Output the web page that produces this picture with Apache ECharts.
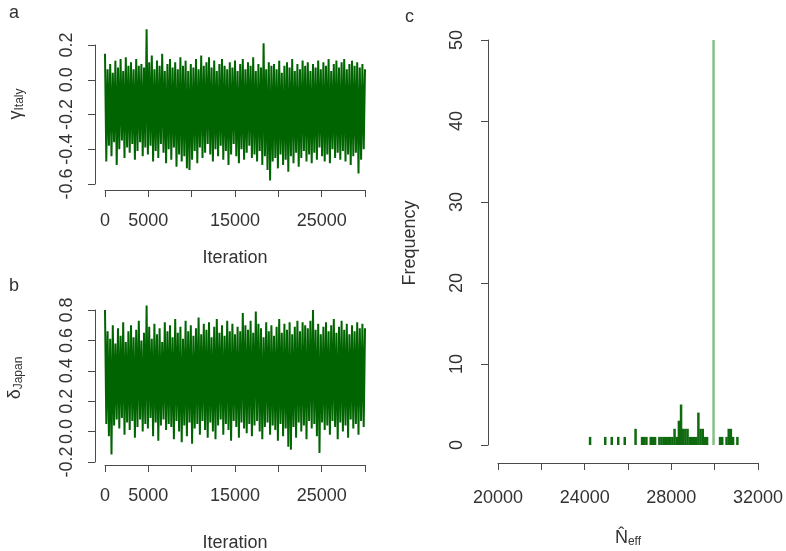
<!DOCTYPE html>
<html>
<head>
<meta charset="utf-8">
<script src="https://cdn.jsdelivr.net/npm/echarts@6/dist/echarts.min.js"></script>
<style>html,body{margin:0;padding:0;background:#fff}#main{width:786px;height:551px}</style>
</head>
<body>
<div id="main"></div>
<script>
// ---- data ----
const iterStep = 150; // iterations between consecutive trace samples (alternating upper/lower excursions)
const gammaItaly = [
  0.15,-0.47, 0.06,-0.38, 0.09,-0.44, 0.04,-0.36, 0.11,-0.49,
  0.07,-0.40, 0.12,-0.35, 0.05,-0.45, 0.13,-0.39, 0.08,-0.42,
  0.10,-0.37, 0.06,-0.46, 0.12,-0.41, 0.08,-0.36, 0.09,-0.44,
  0.07,-0.39, 0.29,-0.43, 0.10,-0.38, 0.14,-0.47, 0.06,-0.41,
  0.11,-0.45, 0.08,-0.37, 0.15,-0.42, 0.05,-0.48, 0.09,-0.40,
  0.12,-0.46, 0.07,-0.39, 0.10,-0.50, 0.06,-0.43, 0.13,-0.47,
  0.08,-0.44, 0.11,-0.51, 0.05,-0.52, 0.09,-0.46, 0.07,-0.41,
  0.12,-0.48, 0.06,-0.39, 0.14,-0.45, 0.08,-0.42, 0.10,-0.37,
  0.13,-0.43, 0.07,-0.47, 0.11,-0.40, 0.05,-0.44, 0.09,-0.38,
  0.12,-0.46, 0.08,-0.41, 0.06,-0.49, 0.10,-0.43, 0.07,-0.37,
  0.11,-0.44, 0.05,-0.48, 0.09,-0.40, 0.12,-0.46, 0.06,-0.42,
  0.10,-0.38, 0.08,-0.45, 0.13,-0.43, 0.05,-0.47, 0.09,-0.41,
  0.07,-0.49, 0.21,-0.44, 0.06,-0.52, 0.10,-0.58, 0.08,-0.47,
  0.09,-0.45, 0.06,-0.51, 0.11,-0.43, 0.04,-0.49, 0.08,-0.46,
  0.10,-0.53, 0.07,-0.44, 0.12,-0.48, 0.05,-0.42, 0.09,-0.50,
  0.06,-0.45, 0.11,-0.41, 0.08,-0.47, 0.10,-0.43, 0.05,-0.48,
  0.09,-0.42, 0.07,-0.46, 0.11,-0.39, 0.06,-0.44, 0.10,-0.47,
  0.08,-0.43, 0.12,-0.48, 0.05,-0.40, 0.09,-0.45, 0.11,-0.42,
  0.07,-0.46, 0.10,-0.41, 0.12,-0.47, 0.06,-0.43, 0.09,-0.49,
  0.11,-0.44, 0.08,-0.42, 0.10,-0.54, 0.07,-0.46, 0.09,-0.40,
  0.06
];
const deltaJapan = [
  0.80, 0.05, 0.66,-0.03, 0.61,-0.15, 0.70, 0.04, 0.58, 0.08,
  0.68, 0.02, 0.63, 0.09, 0.72,-0.02, 0.59, 0.06, 0.66, 0.01,
  0.70, 0.07, 0.62,-0.04, 0.67, 0.03, 0.73, 0.08, 0.60, 0.00,
  0.65, 0.05, 0.83, 0.02, 0.69, 0.09, 0.61,-0.03, 0.71, 0.06,
  0.64,-0.06, 0.68, 0.04, 0.59, 0.08, 0.72, 0.01, 0.66, 0.05,
  0.70, 0.03, 0.62,-0.05, 0.74, 0.07, 0.65, 0.00, 0.69,-0.07,
  0.61, 0.04, 0.73,-0.03, 0.66, 0.06, 0.70,-0.08, 0.63, 0.02,
  0.68, 0.05, 0.75,-0.02, 0.64, 0.07, 0.71, 0.01, 0.67,-0.04,
  0.72, 0.06, 0.62, 0.00, 0.69,-0.05, 0.74, 0.04, 0.65, 0.08,
  0.70,-0.02, 0.63, 0.05, 0.73, 0.01, 0.66,-0.06, 0.71, 0.07,
  0.64, 0.03, 0.69,-0.04, 0.66, 0.06, 0.78, 0.02, 0.70,-0.01,
  0.67, 0.05, 0.73,-0.03, 0.65, 0.04, 0.79, 0.07, 0.71, 0.00,
  0.68,-0.05, 0.62, 0.03, 0.72, 0.06, 0.66,-0.02, 0.70, 0.04,
  0.63, 0.01, 0.69,-0.06, 0.74, 0.05, 0.65,-0.03, 0.71, 0.02,
  0.67,-0.10, 0.72,-0.12, 0.64, 0.03, 0.69,-0.04, 0.73, 0.06,
  0.66, 0.00, 0.72, 0.04, 0.70,-0.05, 0.68, 0.07, 0.73, 0.02,
  0.80, 0.05, 0.67,-0.03, 0.71,-0.14, 0.64, 0.06, 0.69, 0.01,
  0.72, 0.04, 0.66,-0.02, 0.70, 0.07, 0.74, 0.03, 0.65,-0.05,
  0.69, 0.06, 0.73, 0.00, 0.67, 0.04, 0.71,-0.04, 0.64, 0.08,
  0.70, 0.02, 0.66, 0.05, 0.72,-0.02, 0.68, 0.07, 0.71, 0.03,
  0.68
];
const nEffBinCenters = [24250, 24950, 25250, 25550, 25850, 26350, 26650, 26750, 26850,
  27050, 27150, 27250, 27450, 27550, 27650, 27750, 27850, 27950, 28050, 28150, 28250,
  28350, 28450, 28550, 28650, 28750, 28850, 28950, 29050, 29150, 29250, 29350, 29450,
  29550, 29650, 29950, 30250, 30350, 30550, 30650, 30750, 30850, 31050];
const nEffCounts = [1, 1, 1, 1, 1, 2, 1, 1, 1,
  1, 1, 1, 1, 1, 1, 1, 1, 1, 1, 2, 1,
  3, 5, 2, 2, 2, 1, 1, 1, 1, 4, 2, 2,
  1, 1, 50, 1, 1, 1, 2, 2, 1, 1];
const iterTickLabels = ['0', '5000', '', '15000', '', '25000', ''];
const nEffTickLabels = ['20000', '', '24000', '', '28000', '', '32000'];
const freqTickLabels = ['0', '10', '20', '30', '40', '50'];

// ---- chart ----
const FONT = 'Liberation Sans, Arial, sans-serif';
const AX = '#4a4a4a';
const TXT = '#333';
const lineAx = { show: true, onZero: false, lineStyle: { color: AX, width: 1 } };
const tickAx = { show: true, length: 7, lineStyle: { color: AX, width: 1 } };
const fmt1 = v => (Math.abs(v) < 1e-9 ? 0 : v).toFixed(1);

function xIter(gridIndex, offset) {
  return {
    type: 'value', gridIndex, min: 0, max: 30000, interval: 5000, offset,
    axisLine: lineAx, axisTick: tickAx, splitLine: { show: false },
    axisLabel: { color: TXT, fontSize: 18, fontFamily: FONT, margin: 22,
      formatter: (v) => iterTickLabels[Math.round(v / 5000)] || '' }
  };
}
function yVal(gridIndex, min, max, interval, formatter, margin) {
  return {
    type: 'value', gridIndex, min, max, interval, offset: 10,
    axisLine: lineAx, axisTick: tickAx, splitLine: { show: false },
    axisLabel: { color: TXT, fontSize: 18, fontFamily: FONT, rotate: 90, margin, formatter }
  };
}

const chart = echarts.init(document.getElementById('main'));
chart.setOption({
  animation: false,
  backgroundColor: '#fff',
  grid: [
    { left: 105, right: 421, top: 45, height: 139 },
    { left: 105, right: 421, top: 310, height: 152 },
    { left: 498, right: 28, top: 40, height: 405 }
  ],
  xAxis: [
    xIter(0, 6),
    xIter(1, 3),
    {
      type: 'value', gridIndex: 2, min: 20000, max: 32000, interval: 2000, offset: 18,
      axisLine: lineAx, axisTick: tickAx, splitLine: { show: false },
      axisLabel: { color: TXT, fontSize: 18, fontFamily: FONT, margin: 26,
        formatter: (v) => nEffTickLabels[Math.round((v - 20000) / 2000)] || '' }
    }
  ],
  yAxis: [
    yVal(0, -0.6, 0.2, 0.2, fmt1, 19),
    yVal(1, -0.2, 0.8, 0.2, fmt1, 19),
    yVal(2, 0, 50, 10, (v) => freqTickLabels[Math.round(v / 10)], 22)
  ],
  series: [
    {
      type: 'line', xAxisIndex: 0, yAxisIndex: 0, symbol: 'none', clip: false,
      lineStyle: { color: '#006400', width: 2 },
      data: gammaItaly.map((v, i) => [i * iterStep, v])
    },
    {
      type: 'line', xAxisIndex: 1, yAxisIndex: 1, symbol: 'none', clip: false,
      lineStyle: { color: '#006400', width: 2 },
      data: deltaJapan.map((v, i) => [i * iterStep, v])
    },
    {
      type: 'bar', xAxisIndex: 2, yAxisIndex: 2, barWidth: 2.5,
      itemStyle: { color: (p) => (p.value[1] >= 10 ? '#86c086' : '#0f6a0f') },
      data: nEffBinCenters.map((c, i) => [c, nEffCounts[i]])
    }
  ],
  graphic: [
    { type: 'text', left: 9, top: 4, style: { text: 'a', font: '18px ' + FONT, fill: TXT } },
    { type: 'text', left: 9, top: 277, style: { text: 'b', font: '18px ' + FONT, fill: TXT } },
    { type: 'text', left: 405, top: 8, style: { text: 'c', font: '18px ' + FONT, fill: TXT } },
    { type: 'text', x: 235, y: 258, style: { text: 'Iteration', font: '18px ' + FONT, fill: TXT, align: 'center', verticalAlign: 'middle' } },
    { type: 'text', x: 235, y: 543, style: { text: 'Iteration', font: '18px ' + FONT, fill: TXT, align: 'center', verticalAlign: 'middle' } },
    { type: 'text', x: 410, y: 243, rotation: Math.PI / 2, style: { text: 'Frequency', font: '18px ' + FONT, fill: TXT, align: 'center', verticalAlign: 'middle' } },
    { type: 'text', x: 16, y: 104, rotation: Math.PI / 2,
      style: { text: '{g|γ}{s|Italy}', fill: TXT, align: 'center', verticalAlign: 'middle',
        rich: { g: { fontSize: 18, fontFamily: FONT, fill: TXT }, s: { fontSize: 12, fontFamily: FONT, fill: TXT, padding: [8, 0, 0, 0] } } } },
    { type: 'text', x: 15, y: 378, rotation: Math.PI / 2,
      style: { text: '{g|δ}{s|Japan}', fill: TXT, align: 'center', verticalAlign: 'middle',
        rich: { g: { fontSize: 18, fontFamily: FONT, fill: TXT }, s: { fontSize: 12, fontFamily: FONT, fill: TXT, padding: [8, 0, 0, 0] } } } },
    { type: 'text', x: 628, y: 538,
      style: { text: '{n|N\u0302}{s|eff}', fill: TXT, align: 'center', verticalAlign: 'middle',
        rich: { n: { fontSize: 18, fontFamily: FONT, fill: TXT }, s: { fontSize: 12, fontFamily: FONT, fill: TXT, padding: [8, 0, 0, 0] } } } }
  ]
});
</script>
</body>
</html>
